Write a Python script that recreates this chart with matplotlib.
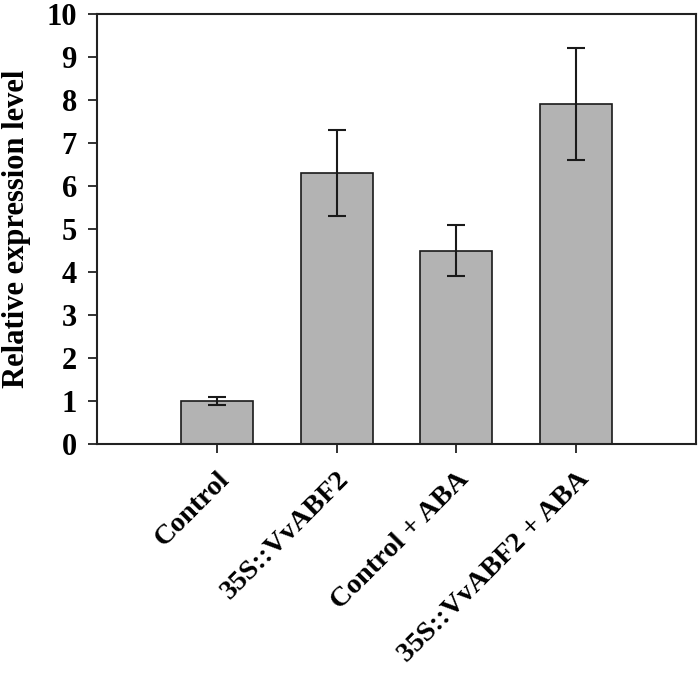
import matplotlib
matplotlib.use("Agg")
import matplotlib.pyplot as plt

categories = ["Control", "35S::VvABF2", "Control + ABA", "35S::VvABF2 + ABA"]
values = [1.0, 6.3, 4.5, 7.9]
err_low = [0.1, 1.0, 0.6, 1.3]
err_high = [0.1, 1.0, 0.6, 1.3]
yticks = [0, 1, 2, 3, 4, 5, 6, 7, 8, 9, 10]

plt.rcParams['font.family'] = ['Liberation Serif', 'DejaVu Serif']
plt.rcParams['font.weight'] = 'bold'

fig = plt.figure(figsize=(6.99, 6.74), dpi=100)
ax = fig.add_axes([97/699, 1-444/674, 599/699, 430/674])

x = list(range(1, len(categories)+1))
ax.bar(x, values, width=0.6, color='#b3b3b3', edgecolor='#1a1a1a', linewidth=1.2, zorder=2)
ax.errorbar(x, values, yerr=[err_low, err_high], fmt='none', ecolor='#1a1a1a',
            elinewidth=1.5, capsize=6.5, capthick=1.5, zorder=3)

ax.set_xlim(0, 5)
ax.set_ylim(0, 10)
ax.set_yticks(yticks)
ax.set_yticklabels([str(t) for t in yticks], fontsize=22, fontweight='bold',
                   family='Liberation Serif')
ax.set_xticks(x)
ax.set_xticklabels(categories, rotation=45, ha='right', rotation_mode='anchor',
                   fontsize=20.5, fontweight='bold', family='Liberation Serif')
ax.tick_params(axis='both', direction='out', length=6.5, width=1.3, color='#222222')
ax.tick_params(axis='y', pad=8)
ax.tick_params(axis='x', pad=10)
for s in ax.spines.values():
    s.set_linewidth(1.5)
    s.set_color('#222222')
ax.set_ylabel("Relative expression level", fontsize=22, fontweight='bold',
              family='Liberation Serif', labelpad=11)

fig.savefig("out.png", dpi=100)
